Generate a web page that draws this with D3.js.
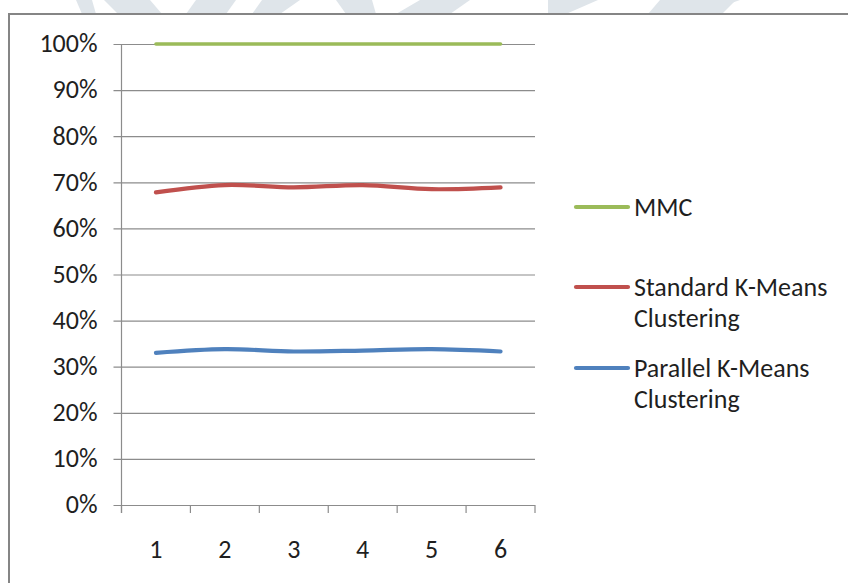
<!DOCTYPE html>
<html>
<head>
<meta charset="utf-8">
<script src="https://cdn.jsdelivr.net/npm/d3@7"></script>
<style>
  html, body { margin: 0; padding: 0; background: #ffffff; }
  svg { display: block; }
  text { font-family: Carlito, "Open Sans", "Liberation Sans", sans-serif; fill: #1f1f1f; }
</style>
</head>
<body>
<svg id="chart" width="848" height="583"></svg>
<script>
// Run indices along the x axis
const categories = [1, 2, 3, 4, 5, 6];

// Accuracy of each method per run (fraction of 1)
const mmcValues      = [1.000, 1.000, 1.000, 1.000, 1.000, 1.000];
const standardValues = [0.678, 0.694, 0.689, 0.694, 0.685, 0.689];
const parallelValues = [0.330, 0.338, 0.333, 0.335, 0.338, 0.333];

// Percentage tick values on the y axis
const yTicks = [0, 0.1, 0.2, 0.3, 0.4, 0.5, 0.6, 0.7, 0.8, 0.9, 1.0];

const seriesNames  = ["MMC", "Standard K-Means Clustering", "Parallel K-Means Clustering"];
const legendLines  = [["MMC"], ["Standard K-Means", "Clustering"], ["Parallel K-Means", "Clustering"]];
const seriesColors = ["#9bbb59", "#c0504d", "#4f81bd"];
const seriesValues = [mmcValues, standardValues, parallelValues];

const fontFamily = "Carlito, 'Open Sans', sans-serif";
const fontSize = 26;

const svg = d3.select("#chart");

// Faint background emblem peeking out above the chart frame
const emblem = svg.append("g").attr("fill", "#dfe5ea");
[
  [[76, 0], [92, 0], [96, 14], [82, 14]],
  [[104, 0], [150, 0], [162, 14], [118, 14]],
  [[196, 0], [236, 0], [226, 14], [186, 14]],
  [[262, 0], [300, 0], [280, 14], [252, 14]],
  [[336, 0], [372, 0], [376, 14], [346, 14]],
  [[420, 0], [470, 0], [450, 14], [396, 14]],
  [[548, 0], [598, 0], [566, 14], [548, 14]],
  [[660, 0], [740, 0], [700, 14], [648, 14]],
  [[712, 0], [736, 0], [722, 14], [700, 14]]
].forEach(pts => emblem.append("polygon").attr("points", pts.map(p => p.join(",")).join(" ")));

// White chart area with its frame (left and top edges visible)
svg.append("rect").attr("x", 9).attr("y", 14).attr("width", 860).attr("height", 600)
  .attr("fill", "#ffffff").attr("stroke", "#858585").attr("stroke-width", 2);

const plot = { left: 121.5, right: 535, top: 44, bottom: 505 };

const x = d3.scaleBand().domain(categories).range([plot.left, plot.right]).padding(0);
const y = d3.scaleLinear().domain([0, 1]).range([plot.bottom, plot.top]);

const gridColor = "#8c8c8c";

// Horizontal gridlines with the y-axis ticks
const yAxis = d3.axisLeft(y).tickValues(yTicks).tickFormat(d3.format(".0%"))
  .tickSize(-(plot.right - plot.left)).tickPadding(24);
const gy = svg.append("g").attr("transform", `translate(${plot.left},0)`).call(yAxis);
gy.select(".domain").remove();
gy.selectAll(".tick line").attr("x1", -8).attr("stroke", gridColor).attr("stroke-width", 1.2);
gy.selectAll(".tick text").attr("font-size", fontSize).attr("fill", "#1f1f1f")
  .attr("dy", "0.3em")
  .style("font-family", fontFamily);

// Vertical axis line
svg.append("line").attr("x1", plot.left).attr("x2", plot.left)
  .attr("y1", plot.top).attr("y2", plot.bottom + 8)
  .attr("stroke", gridColor).attr("stroke-width", 1.2);

// X axis: ticks at band boundaries, labels at band centres
const boundaries = categories.map(c => x(c)).concat([x(categories[categories.length - 1]) + x.bandwidth()]);
const gx = svg.append("g");
gx.selectAll("line.xt").data(boundaries).join("line").attr("class", "xt")
  .attr("x1", d => d).attr("x2", d => d).attr("y1", plot.bottom).attr("y2", plot.bottom + 8)
  .attr("stroke", gridColor).attr("stroke-width", 1.2);
const xAxis = d3.axisBottom(x).tickSize(0).tickPadding(0);
const gxl = svg.append("g").attr("transform", `translate(0,${plot.bottom})`).call(xAxis);
gxl.select(".domain").remove();
gxl.selectAll(".tick text").attr("font-size", fontSize).attr("fill", "#1f1f1f")
  .attr("dy", null).attr("y", 53)
  .style("font-family", fontFamily);

// Smoothed series lines
const line = d3.line()
  .x((d, i) => x(categories[i]) + x.bandwidth() / 2)
  .y(d => y(d))
  .curve(d3.curveCatmullRom.alpha(0));

seriesValues.forEach((vals, i) => {
  svg.append("path").datum(vals)
    .attr("d", line)
    .attr("fill", "none")
    .attr("stroke", seriesColors[i])
    .attr("stroke-width", i === 0 ? 3.5 : 4.2)
    .attr("stroke-linecap", "round")
    .attr("stroke-linejoin", "round");
});

// Legend
const legendY = [207, 287, 368];
const legend = svg.append("g");
seriesNames.forEach((name, i) => {
  const g = legend.append("g").attr("transform", `translate(0,${legendY[i]})`);
  g.append("line").attr("x1", 576).attr("x2", 628).attr("y1", 0).attr("y2", 0)
    .attr("stroke", seriesColors[i]).attr("stroke-width", 4.2).attr("stroke-linecap", "round");
  const t = g.append("text").attr("x", 634).attr("y", 0).attr("font-size", fontSize)
    .attr("dominant-baseline", "central").style("font-family", fontFamily);
  legendLines[i].forEach((s, k) => {
    t.append("tspan").attr("x", 634).attr("dy", k === 0 ? 0 : 31).text(s);
  });
});
</script>
</body>
</html>
